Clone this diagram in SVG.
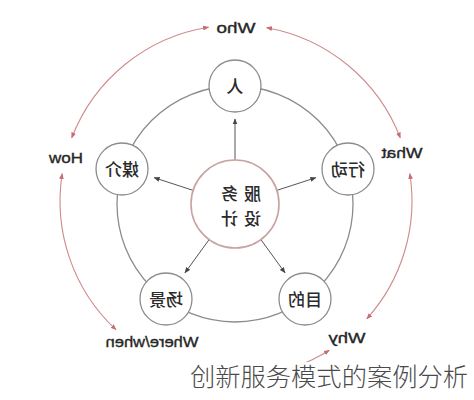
<svg xmlns="http://www.w3.org/2000/svg" width="474" height="400" viewBox="0 0 474 400">
<style>
.ring{fill:none;stroke:#8c8c8c;stroke-width:1.3}
.node{fill:#fff;stroke:#8c8c8c;stroke-width:1.3}
.core{fill:#fff;stroke:#c9a2a2;stroke-width:1.6}
.arc{fill:none;stroke:#cf8a8c;stroke-width:1.1}
.ptr{fill:none;stroke:#555;stroke-width:1}
.cn{font-family:"Noto Sans CJK SC","Noto Sans",sans-serif;font-weight:500;fill:#2a2a2a;text-anchor:middle}
.en{font-family:"Liberation Sans",Arial,sans-serif;font-size:15px;fill:#262626;stroke:#262626;stroke-width:0.35;text-anchor:middle}
.cap{font-family:"Noto Sans CJK SC","Noto Sans",sans-serif;font-size:25px;font-weight:300;fill:#4a4a4a}
</style>
<defs>
<marker id="ah" viewBox="0 0 10 10" refX="9" refY="5" markerWidth="6" markerHeight="6" markerUnits="userSpaceOnUse" orient="auto"><path d="M0,1 L10,5 L0,9 Z" fill="#444"/></marker>
<marker id="pa" viewBox="0 0 10 10" refX="9" refY="5" markerWidth="6" markerHeight="6" markerUnits="userSpaceOnUse" orient="auto-start-reverse"><path d="M0,1 L10,5 L0,9 Z" fill="#c46e72"/></marker>
</defs>
<rect width="474" height="400" fill="#fff"/>
<circle class="ring" cx="235" cy="204" r="118"/>
<g id="connectors">
<path class="arc" d="M266.6,27.7 A176,176 0 0 1 400.3,137.9" marker-start="url(#pa)" marker-end="url(#pa)"/>
<path class="arc" d="M409.8,173.5 A176,176 0 0 1 366.8,318.8" marker-start="url(#pa)" marker-end="url(#pa)"/>
<path class="arc" d="M329.3,350.2 A176,176 0 0 1 190.4,371.0" marker-start="url(#pa)" marker-end="url(#pa)"/>
<path class="arc" d="M116.0,329.7 A176,176 0 0 1 62.2,173.5" marker-start="url(#pa)" marker-end="url(#pa)"/>
<path class="arc" d="M71.7,137.9 A176,176 0 0 1 208.5,27.2" marker-start="url(#pa)" marker-end="url(#pa)"/>
<line class="ptr" x1="235" y1="160" x2="235" y2="119" marker-end="url(#ah)"/>
<line class="ptr" x1="276.8" y1="190.4" x2="315.8" y2="177.7" marker-end="url(#ah)"/>
<line class="ptr" x1="260.9" y1="239.6" x2="285.0" y2="272.8" marker-end="url(#ah)"/>
<line class="ptr" x1="209.1" y1="239.6" x2="185.0" y2="272.8" marker-end="url(#ah)"/>
<line class="ptr" x1="193.2" y1="190.4" x2="154.2" y2="177.7" marker-end="url(#ah)"/>
</g>
<g id="center">
<circle class="core" cx="235" cy="204" r="44"/>
<text class="cn" font-size="17" letter-spacing="6" transform="translate(238,200) scale(-1,1)">服务</text>
<text class="cn" font-size="17" letter-spacing="6" transform="translate(238,225) scale(-1,1)">设计</text>
</g>
<g id="node-ren">
<circle class="node" cx="235" cy="86" r="26"/>
<text class="cn" font-size="17" transform="translate(235,92.5) scale(-1,1)">人</text>
</g>
<g id="node-xingdong">
<circle class="node" cx="348" cy="169" r="26"/>
<text class="cn" font-size="17" transform="translate(348,175.5) scale(-1,1)">行动</text>
</g>
<g id="node-mudi">
<circle class="node" cx="305" cy="299" r="26"/>
<text class="cn" font-size="17" transform="translate(305,305.5) scale(-1,1)">目的</text>
</g>
<g id="node-changjing">
<circle class="node" cx="166" cy="299" r="26"/>
<text class="cn" font-size="17" transform="translate(166,305.5) scale(-1,1)">场景</text>
</g>
<g id="node-meijie">
<circle class="node" cx="122" cy="169" r="26"/>
<text class="cn" font-size="17" transform="translate(122,175.5) scale(-1,1)">媒介</text>
</g>
<g id="label-who"><text class="en" textLength="39" lengthAdjust="spacingAndGlyphs" transform="translate(236,32.5) scale(-1,1)">Who</text></g>
<g id="label-what"><text class="en" textLength="41" lengthAdjust="spacingAndGlyphs" transform="translate(402,158) scale(-1,1)">What</text></g>
<g id="label-why"><text class="en" textLength="37" lengthAdjust="spacingAndGlyphs" transform="translate(347,343) scale(-1,1)">Why</text></g>
<g id="label-where"><text class="en" textLength="93" lengthAdjust="spacingAndGlyphs" transform="translate(152,347) scale(-1,1)">Where/when</text></g>
<g id="label-how"><text class="en" textLength="34" lengthAdjust="spacingAndGlyphs" transform="translate(66,163) scale(-1,1)">How</text></g>
<g id="caption">
<rect x="184" y="362" width="290" height="38" fill="#fff" opacity="0.92"/>
<text class="cap" x="190" y="386" textLength="278" lengthAdjust="spacingAndGlyphs">创新服务模式的案例分析</text>
</g>
</svg>
